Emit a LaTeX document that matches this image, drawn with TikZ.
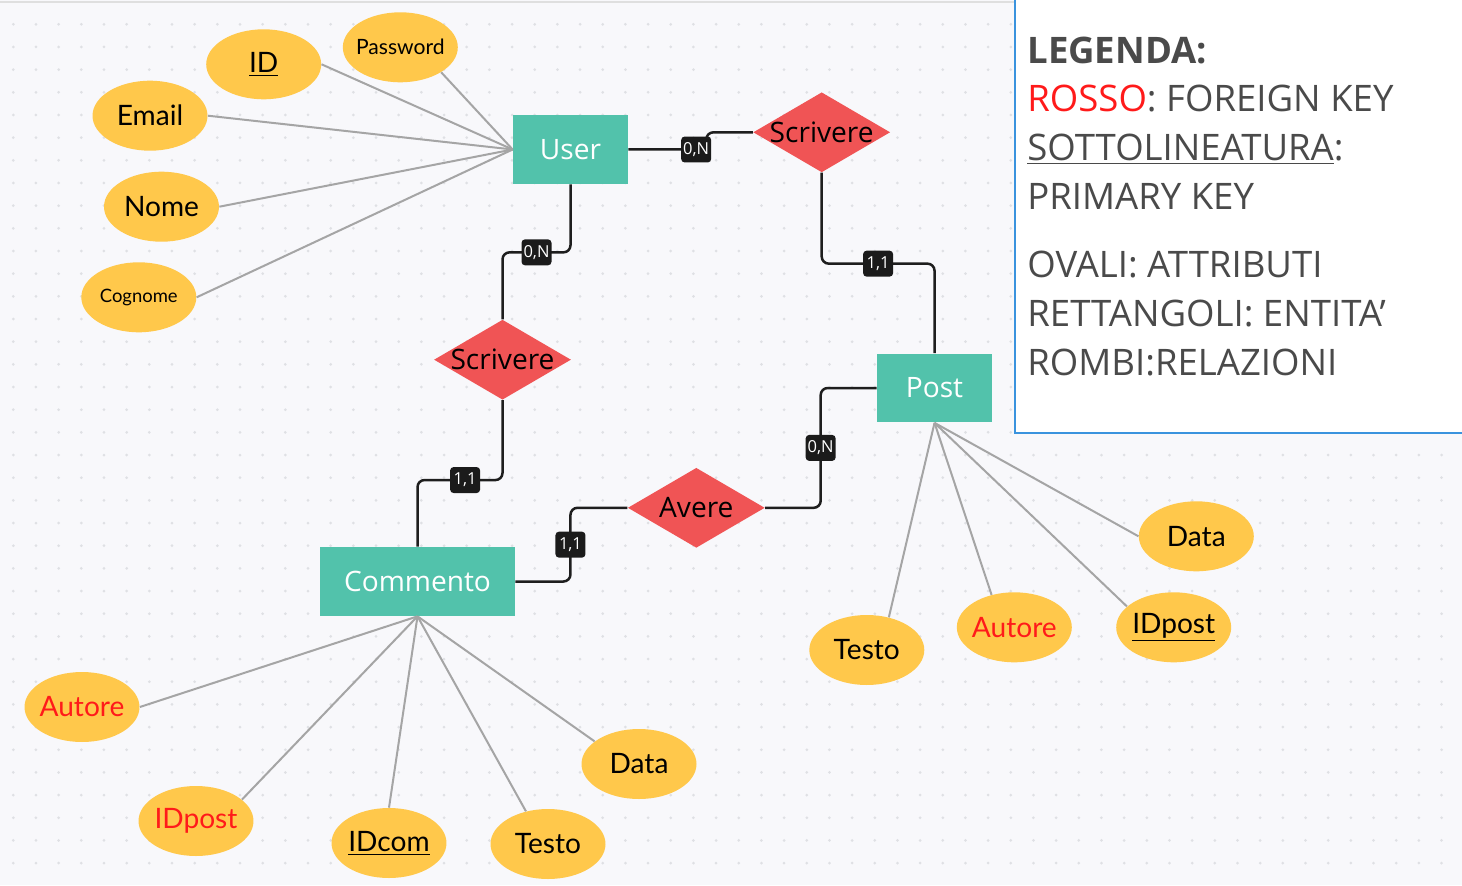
\documentclass[tikz,border=0pt]{standalone}
\usepackage{fontspec}
\setmainfont{Open Sans}
\newfontfamily\latofont{Lato}
\usetikzlibrary{shapes.geometric}

\definecolor{bgc}{HTML}{F8F8FB}
\definecolor{dotc}{HTML}{DFE0E4}
\definecolor{attrfill}{HTML}{FFC84B}
\definecolor{entfill}{HTML}{52C2AB}
\definecolor{relfill}{HTML}{F05455}
\definecolor{cardfill}{HTML}{1B1B1B}
\definecolor{linkblack}{HTML}{1E1E1E}
\definecolor{attrgray}{HTML}{A5A5A5}
\definecolor{keyred}{HTML}{FF1A1A}
\definecolor{legtext}{HTML}{4A4A4A}
\definecolor{legblue}{HTML}{3A93DE}

\begin{document}
\begin{tikzpicture}[
    x=0.02cm, y=-0.02cm,
    entity/.style={rectangle, fill=entfill, text=white, minimum width=2.3cm, minimum height=1.38cm, font=\fontsize{16}{18}\selectfont},
    relation/.style={diamond, fill=relfill, inner sep=0pt, minimum width=2.74cm, minimum height=1.6cm, font=\fontsize{16}{18}\selectfont},
    attr/.style={ellipse, fill=attrfill, inner xsep=-4pt, inner ysep=0pt, minimum width=2.3cm, minimum height=1.4cm, font=\latofont\fontsize{16}{18}\selectfont},
    fk/.style={text=keyred},
    card/.style={rectangle, rounded corners=2pt, fill=cardfill, text=white, minimum width=0.6cm, minimum height=0.52cm, inner sep=0pt, font=\fontsize{9.4}{11}\selectfont},
    link/.style={draw=linkblack, line width=0.05cm, rounded corners=4pt},
    attrline/.style={draw=attrgray, line width=0.04cm},
    legend/.style={anchor=base west, inner sep=0pt, text=legtext, font=\fontsize{20.8}{27.6}\selectfont}
]
    \useasboundingbox (0,0) rectangle (1462,885);
    \fill[bgc] (0,0) rectangle (1462,885);
    \foreach \i in {0,...,63} {
        \foreach \j in {0,...,37} {
            \fill[dotc] (13.3+22.67*\i, 24.3+22.67*\j) circle (0.03cm);
        }
    }
    \draw[gray!25, line width=0.03cm] (0,2) -- (1015,2);

    % Legend
    \fill[white] (1015,0) rectangle (1462,433);
    \draw[legblue, line width=0.045cm] (1015,0) -- (1015,433) -- (1462,433);
    \node[legend] (lg1) at (1027,63.3) {\textbf{LEGENDA:}};
    \node[legend] (lg2) at (1027,112) {\textcolor{keyred}{ROSSO}: FOREIGN KEY};
    \node[legend] (lg3) at (1027,160.5) {\underline{SOTTOLINEATURA}:};
    \node[legend] (lg4) at (1027,209.3) {PRIMARY KEY};
    \node[legend] (lg5) at (1027,277.7) {OVALI: ATTRIBUTI};
    \node[legend] (lg6) at (1027,326) {RETTANGOLI: ENTITA’};
    \node[legend] (lg7) at (1027,375) {ROMBI:RELAZIONI};

    % Entities and relations
    \node[entity] (user) at (570.5,149.5) {User};
    \node[entity] (post) at (934.5,388) {Post};
    \node[entity, minimum width=3.9cm] (com) at (417.5,581.5) {Commento};
    \node[relation] (scr1) at (821.7,132.3) {\makebox[0pt]{Scrivere}};
    \node[relation] (scr2) at (502.5,359.7) {\makebox[0pt]{Scrivere}};
    \node[relation] (avere) at (696.3,507.8) {\makebox[0pt]{Avere}};

    % User attributes
    \node[attr, font=\latofont\fontsize{12}{14}\selectfont] (pw) at (400.3,47.3) {Password};
    \node[attr] (uid) at (263.7,64.3) {\underline{ID}};
    \node[attr] (email) at (150,115.7) {Email};
    \node[attr] (nome) at (161.5,206.7) {Nome};
    \node[attr, font=\latofont\fontsize{10.5}{12}\selectfont] (cognome) at (138.8,297.3) {Cognome};

    % Post attributes
    \node[attr] (pdata) at (1196.3,536.3) {Data};
    \node[attr] (pid) at (1173.7,627.3) {\underline{IDpost}};
    \node[attr, fk] (paut) at (1014.3,627.3) {Autore};
    \node[attr] (ptesto) at (866.8,650) {Testo};

    % Commento attributes
    \node[attr, fk] (caut) at (82,707) {Autore};
    \node[attr, fk] (cidp) at (196,821) {IDpost};
    \node[attr] (cidc) at (389,843) {\underline{IDcom}};
    \node[attr] (ctesto) at (548,844) {Testo};
    \node[attr] (cdata) at (639,764) {Data};

    \draw[attrline] (pw.south east) -- (user.west);
    \draw[attrline] (uid.east) -- (user.west);
    \draw[attrline] (email.east) -- (user.west);
    \draw[attrline] (nome.east) -- (user.west);
    \draw[attrline] (cognome.east) -- (user.west);

    \draw[attrline] (post.south) -- (pdata.west);
    \draw[attrline] (post.south) -- (pid.156);
    \draw[attrline] (post.south) -- (paut.125);
    \draw[attrline] (post.south) -- (ptesto.56);

    \draw[attrline] (com.south) -- (caut.east);
    \draw[attrline] (com.south) -- (cidp.25);
    \draw[attrline] (com.south) -- (cidc.north);
    \draw[attrline] (com.south) -- (ctesto.124);
    \draw[attrline] (com.south) -- (cdata.153);

    % Cardinalities
    \draw[link] (user.east) -- node[card, pos=0.87] {0,N} ++(78,0) |- (scr1.west);
    \draw[link] (user.south) -- ++(0,68) -| node[card, pos=0.25] {0,N} (scr2.north);
    \draw[link] (scr2.south) -- ++(0,80) -| node[card, pos=0.22] {1,1} (com.north);
    \draw[link] (scr1.south) -- ++(0,91) -| node[card, pos=0.25] {1,1} (post.north);
    \draw[link] (post.west) -- ++(-56,0) |- node[card, pos=0.25] {0,N} (avere.east);
    \draw[link] (avere.west) -- ++(-57,0) |- node[card, pos=0.25] {1,1} (com.east);

\end{tikzpicture}
\end{document}
